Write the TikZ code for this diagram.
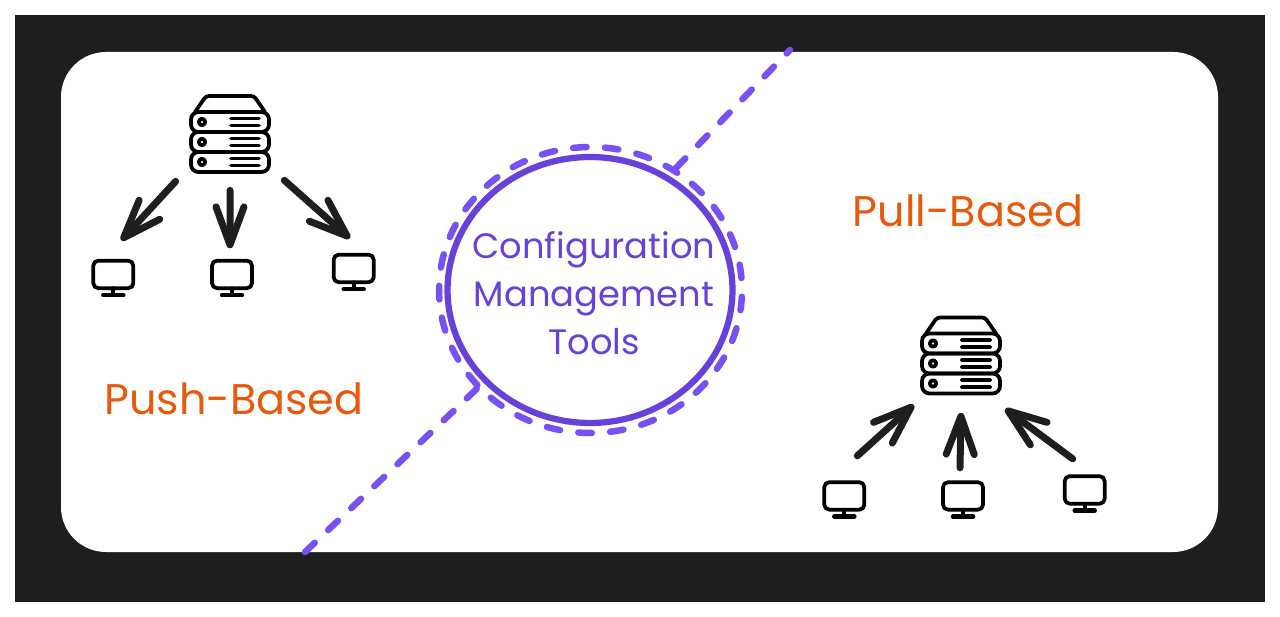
\documentclass[tikz,border=0pt]{standalone}
\usepackage{fontspec}
\setmainfont{Poppins}
\usetikzlibrary{arrows.meta,positioning,shapes.geometric}

\definecolor{panel}{HTML}{1E1E1E}
\definecolor{toolviolet}{HTML}{6741D9}
\definecolor{dashviolet}{HTML}{7950F2}
\definecolor{labelorange}{HTML}{E8590C}

\begin{document}
\begin{tikzpicture}[
  x=0.02cm, y=-0.02cm,
  serverbox/.style={minimum width=1.56cm, minimum height=1.52cm, inner sep=0pt},
  screenbox/.style={minimum width=0.84cm, minimum height=0.74cm, inner sep=0pt},
  icon/.style={draw=black, line width=0.075cm, line cap=round, line join=round},
  flow/.style={-{Straight Barb[length=0.76cm, width=0.56cm, round, line width=0.14cm]}, draw=panel, line width=0.14cm, line cap=round},
  dashline/.style={draw=dashviolet, line width=0.13cm, line cap=round, dash pattern=on 0.27cm off 0.368cm},
  kind/.style={text=labelorange, font=\fontsize{24.4}{28}\selectfont},
  serverpic/.pic={
    \draw[icon, rounded corners=0.06cm] (-35,-22) -- (-24,-38) -- (24,-38) -- (35,-22);
    \foreach \y in {-22,-2,18} {
      \draw[icon, rounded corners=0.15cm] (-39,\y) rectangle (39,\y+20);
      \draw[icon] (-28,\y+10) circle (3.2);
      \draw[icon] (1,\y+6.5) -- (29,\y+6.5);
      \draw[icon] (1,\y+13.5) -- (29,\y+13.5);
    }
  },
  screenpic/.pic={
    \draw[icon, rounded corners=0.1cm] (-20,-17.5) rectangle (20,10);
    \draw[icon] (0,10) -- (0,15);
    \draw[icon, line width=0.09cm] (-10,17) -- (10,17);
  }
]
\fill[panel] (15,15) rectangle (1265,602);
\fill[white, rounded corners=0.9cm] (61,52) rectangle (1218,552);
\useasboundingbox (0,0) rectangle (1280,617);

% Both rings and the line through them
\node[ellipse, minimum width=6.06cm, minimum height=5.72cm, inner sep=0pt, dashline, dash phase=0.398cm] (ring) at (590.5,290) {};
\node[ellipse, draw=toolviolet, line width=0.125cm, minimum width=5.7cm, minimum height=5.32cm, inner sep=0pt] (tool) at (590,290) {};
\node[align=center, text=toolviolet, font=\fontsize{20.1}{27.5}\selectfont] (toolname) at (594,293) {Configuration\\Management\\Tools};
\coordinate (topend) at (790,50);
\coordinate (lowend) at (304,553);
\draw[dashline] (ring.55) -- (topend);
\draw[dashline] (ring.221) -- (lowend);

% Push side
\node[serverbox] (s1) at (230,134) {};
\node[screenbox, below left=1.74cm and 1.12cm of s1] (m1) {};
\node[screenbox, below=1.74cm of s1, xshift=0.04cm] (m2) {};
\node[screenbox, below right=1.62cm and 1.26cm of s1] (m3) {};
\node[kind] (push) at (234,399) {Push-Based};

% Pull side
\node[serverbox] (s2) at (961,355.5) {};
\node[screenbox, below left=1.74cm and 1.12cm of s2] (m4) {};
\node[screenbox, below=1.74cm of s2, xshift=0.04cm] (m5) {};
\node[screenbox, below right=1.62cm and 1.26cm of s2] (m6) {};
\node[kind] (pull) at (968,211) {Pull-Based};

\foreach \n in {s1,s2}
  \pic at (\n) {serverpic};
\foreach \n in {m1,m2,m3,m4,m5,m6}
  \pic at (\n) {screenpic};

\draw[flow] ([shift={(-15,9)}]s1.south west) -- ([shift={(8,-19)}]m1.north);
\draw[flow] ([shift={(0,18)}]s1.south) -- ([shift={(-2,-11)}]m2.north);
\draw[flow] ([shift={(15,8)}]s1.south east) -- ([shift={(-4,-15)}]m3.north);
\draw[flow] ([shift={(13,-25)}]m4.north) -- ([shift={(-8,11)}]s2.south west);
\draw[flow] ([shift={(-3,-13)}]m5.north) -- ([shift={(0,19)}]s2.south);
\draw[flow] ([shift={(-12,-16)}]m6.north) -- ([shift={(5,15)}]s2.south east);
\end{tikzpicture}
\end{document}
